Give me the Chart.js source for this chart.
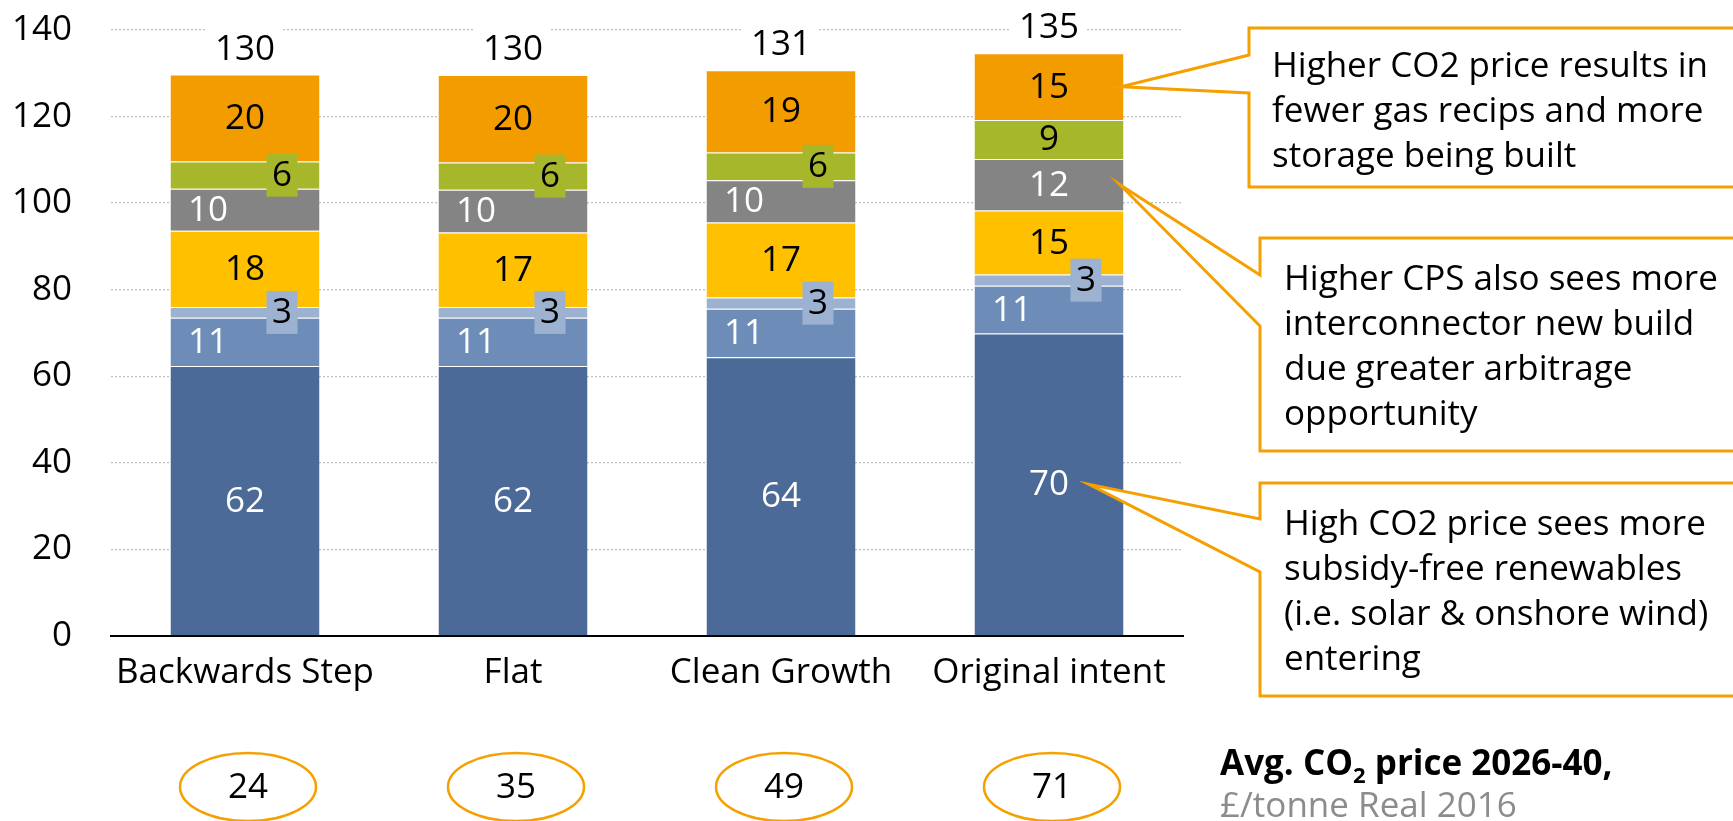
<!DOCTYPE html>
<html>
<head>
<meta charset="utf-8">
<title>Capacity by CO2 price scenario</title>
<script src="https://cdn.jsdelivr.net/npm/chart.js@4.4.1/dist/chart.umd.min.js"></script>
<style>
  html, body { margin: 0; padding: 0; background: #fff; }
  #wrap { position: relative; width: 1733px; height: 821px; }
</style>
</head>
<body>
<div id="wrap"><canvas id="chart"></canvas></div>
<script>
// ── data ─────────────────────────────────────────────────────
const scenarios = ['Backwards Step', 'Flat', 'Clean Growth', 'Original intent'];

// stacked segments, bottom to top
const darkBlue  = [62.4, 62.4, 64.4, 69.9];
const midBlue   = [11.1, 11.1, 11.2, 11.0];
const lightBlue = [2.5, 2.5, 2.6, 2.6];
const yellow    = [17.6, 17.2, 17.3, 14.8];
const grey      = [9.7, 9.9, 9.8, 11.9];
const green     = [6.3, 6.3, 6.4, 9.0];
const orange    = [20.1, 20.2, 19.0, 15.4];

// avg CO2 price 2026-40, £/tonne real 2016
const co2Price = [24, 35, 49, 71];

const yMax = 140;
const yStep = 20;

// ── styling ──────────────────────────────────────────────────
const FONT = "'Open Sans', 'Noto Sans', sans-serif";
const FS = 35;
const ORANGE_LINE = '#F5A000';

const stack = [darkBlue, midBlue, lightBlue, yellow, grey, green, orange];
const stackColors = ['#4B6A98', '#6E8CB8', '#9DB1D1', '#FFC000', '#848484', '#A6B72B', '#F39C00'];
const labelInk = ['#fff', '#fff', '#000', '#000', '#fff', '#000', '#000'];
// c = centred, l = left of centre, r = right of centre on a small patch
const labelPlace = [
    ['c', 'c', 'c', 'c'],
    ['l', 'l', 'l', 'l'],
    ['r', 'r', 'r', 'r'],
    ['c', 'c', 'c', 'c'],
    ['l', 'l', 'l', 'c'],
    ['r', 'r', 'r', 'c'],
    ['c', 'c', 'c', 'c']
];

const notes = [
    { lines: ['Higher CO2 price results in', 'fewer gas recips and more', 'storage being built'],
      ds: 6, bar: 3, tipDx: 72, left: 1249, top: 28, bottom: 187, w1: 55, w2: 93, tx: 1272, ty: 67 },
    { lines: ['Higher CPS also sees more', 'interconnector new build', 'due greater arbitrage', 'opportunity'],
      ds: 4, bar: 3, tipDx: 71, left: 1260, top: 238, bottom: 451, w1: 275, w2: 326, tx: 1284, ty: 280 },
    { lines: ['High CO2 price sees more', 'subsidy-free renewables', '(i.e. solar & onshore wind)', 'entering'],
      ds: 0, bar: 3, tipDx: 40, left: 1260, top: 483, bottom: 696, w1: 519, w2: 572, tx: 1284, ty: 525 }
];

// ── plugins ──────────────────────────────────────────────────
const segmentLabels = {
    id: 'segmentLabels',
    afterDatasetsDraw(chart) {
        const ctx = chart.ctx;
        ctx.save();
        ctx.font = `${FS}px ${FONT}`;
        ctx.textAlign = 'center';
        ctx.textBaseline = 'middle';
        chart.data.datasets.forEach((ds, di) => {
            const meta = chart.getDatasetMeta(di);
            meta.data.forEach((bar, i) => {
                const cy = (bar.y + bar.base) / 2;
                const place = labelPlace[di][i];
                let cx = bar.x;
                if (place === 'l') cx -= 37;
                if (place === 'r') {
                    cx += 37;
                    ctx.fillStyle = stackColors[di];
                    ctx.fillRect(cx - 15.5, cy - 21.5, 31, 43);
                }
                ctx.fillStyle = labelInk[di];
                ctx.fillText(String(Math.round(ds.data[i])), cx, cy + 1);
            });
        });

        // totals above each bar, on a white patch that breaks the gridline
        const top = chart.getDatasetMeta(stack.length - 1);
        top.data.forEach((bar, i) => {
            const total = stack.reduce((s, arr) => s + arr[i], 0);
            const txt = String(Math.round(total));
            const w = ctx.measureText(txt).width + 16;
            const cy = bar.y - 26;
            ctx.fillStyle = '#fff';
            ctx.fillRect(bar.x - w / 2, cy - 20, w, 40);
            ctx.fillStyle = '#000';
            ctx.fillText(txt, bar.x, cy + 1);
        });
        ctx.restore();
    }
};

const extras = {
    id: 'extras',
    afterDraw(chart) {
        const ctx = chart.ctx;
        const xs = chart.scales.x;
        ctx.save();

        // CO2 price ellipses under each scenario
        ctx.lineWidth = 2.5;
        ctx.strokeStyle = ORANGE_LINE;
        ctx.font = `${FS}px ${FONT}`;
        ctx.textAlign = 'center';
        ctx.textBaseline = 'middle';
        co2Price.forEach((p, i) => {
            const cx = xs.getPixelForValue(i) + 3;
            const cy = 787;
            ctx.beginPath();
            ctx.ellipse(cx, cy, 68, 34, 0, 0, Math.PI * 2);
            ctx.stroke();
            ctx.fillStyle = '#000';
            ctx.fillText(String(p), cx, cy + 1);
        });

        // caption for the ellipses
        ctx.textAlign = 'left';
        ctx.textBaseline = 'alphabetic';
        let x = 1220;
        const parts = [['Avg. CO', 0, FS], ['2', 8, 22], [' price 2026-40,', 0, FS]];
        parts.forEach(([t, dy, sz]) => {
            ctx.font = `bold ${sz}px ${FONT}`;
            ctx.fillStyle = '#000';
            ctx.fillText(t, x, 775 + dy);
            x += ctx.measureText(t).width;
        });
        ctx.font = `${FS}px ${FONT}`;
        ctx.fillStyle = '#8C8C8C';
        ctx.fillText('£/tonne Real 2016', 1220, 817);

        // callouts pointing at segments of the last bar
        notes.forEach(n => {
            const bar = chart.getDatasetMeta(n.ds).data[n.bar];
            const tipX = bar.x + n.tipDx;
            const tipY = (bar.y + bar.base) / 2;
            ctx.beginPath();
            ctx.moveTo(n.left, n.top);
            ctx.lineTo(1760, n.top);
            ctx.lineTo(1760, n.bottom);
            ctx.lineTo(n.left, n.bottom);
            ctx.lineTo(n.left, n.w2);
            ctx.lineTo(tipX, tipY);
            ctx.lineTo(n.left, n.w1);
            ctx.closePath();
            ctx.fillStyle = '#fff';
            ctx.fill();
            ctx.lineWidth = 3;
            ctx.lineJoin = 'miter';
            ctx.strokeStyle = ORANGE_LINE;
            ctx.stroke();

            ctx.fillStyle = '#000';
            ctx.font = `${FS}px ${FONT}`;
            ctx.textBaseline = 'middle';
            n.lines.forEach((line, k) => ctx.fillText(line, n.tx, n.ty + k * 45));
        });
        ctx.restore();
    }
};

// ── chart ────────────────────────────────────────────────────
new Chart(document.getElementById('chart'), {
    type: 'bar',
    data: {
        labels: scenarios,
        datasets: stack.map((arr, i) => ({
            label: 'Segment ' + (i + 1),
            data: arr,
            backgroundColor: stackColors[i],
            borderColor: 'rgba(255,255,255,0.2)',
            borderWidth: { top: 1, right: 0, bottom: 0, left: 0 },
            borderSkipped: false,
            categoryPercentage: 1,
            barPercentage: 0.556
        }))
    },
    options: {
        responsive: true,
        maintainAspectRatio: false,
        animation: false,
        layout: { padding: { top: 30, right: 550, bottom: 0, left: 0 } },
        plugins: {
            legend: { display: false },
            tooltip: { enabled: false }
        },
        scales: {
            x: {
                stacked: true,
                grid: { display: false, drawTicks: false },
                border: { display: true, color: '#000', width: 2 },
                ticks: {
                    color: '#000',
                    font: { family: FONT, size: FS },
                    padding: 16,
                    maxRotation: 0,
                    autoSkip: false
                },
                afterFit: s => { s.height = 821 - 636; }
            },
            y: {
                stacked: true,
                min: 0,
                max: yMax,
                ticks: {
                    stepSize: yStep,
                    color: '#000',
                    font: { family: FONT, size: FS },
                    padding: 0
                },
                grid: {
                    drawTicks: true,
                    tickLength: 39,
                    tickColor: 'rgba(0,0,0,0)',
                    lineWidth: 1.3,
                    color: c => c.tick && c.tick.value === 0 ? 'rgba(0,0,0,0)' : '#BFBFBF'
                },
                border: { display: false, dash: [2, 2] },
                afterFit: s => { s.width = 111; }
            }
        }
    },
    plugins: [segmentLabels, extras]
});
</script>
</body>
</html>
